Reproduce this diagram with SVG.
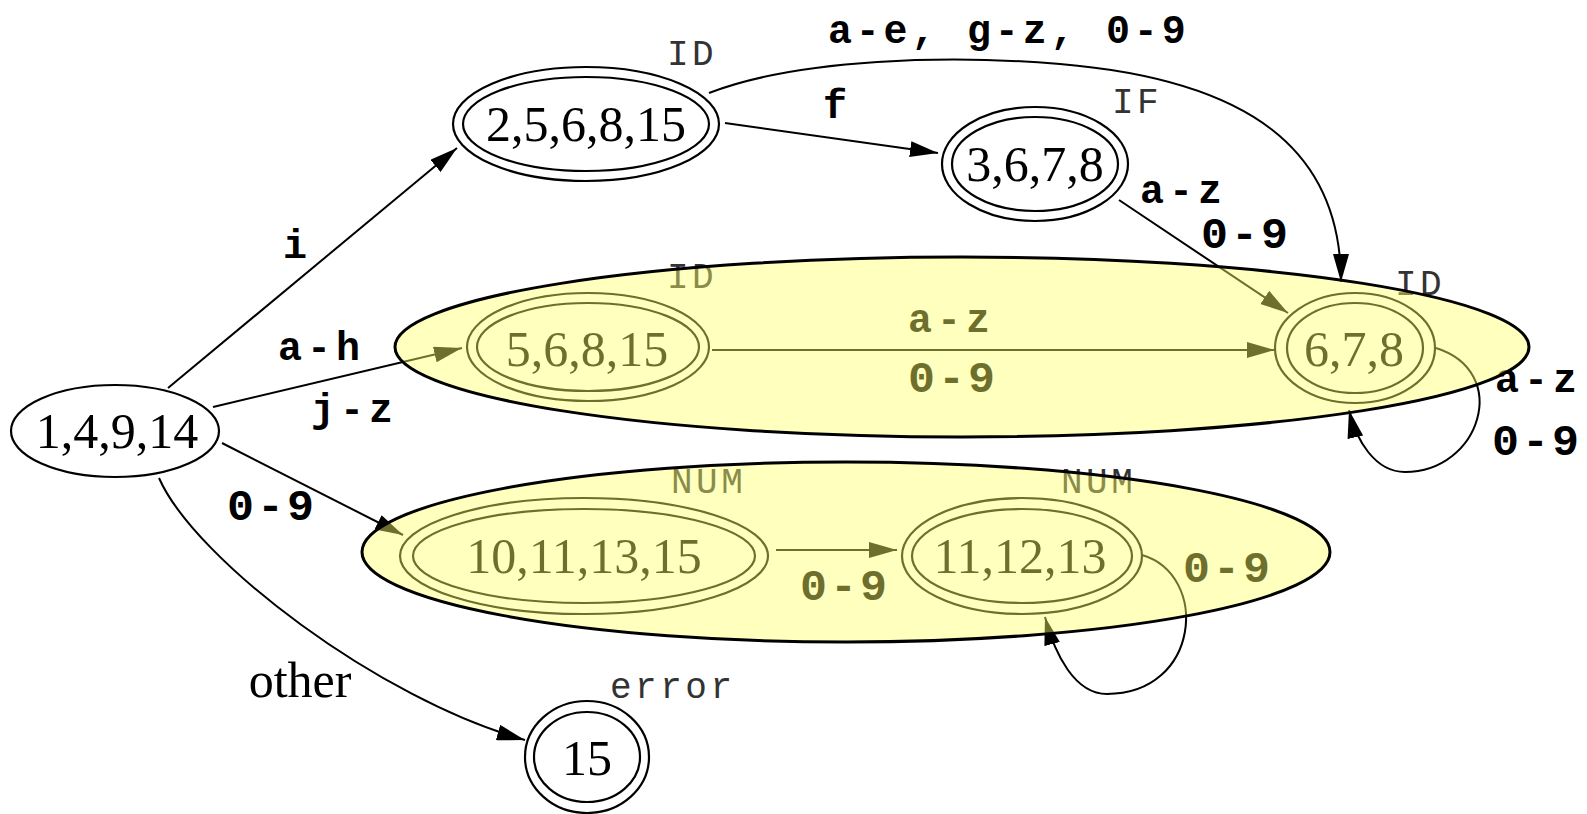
<svg xmlns="http://www.w3.org/2000/svg" width="1587" height="814" viewBox="0 0 1587 814">
<style>
.bg{fill:#fff}
.n{fill:none;stroke:#000;stroke-width:2.2}
.nl{font-family:"Liberation Serif","Times New Roman",serif;font-size:50px;fill:#000;text-anchor:middle}
.tag{font-family:"Liberation Mono","Courier New",monospace;font-size:36px;fill:#333;letter-spacing:3.5px}
.el{font-family:"Liberation Mono","Courier New",monospace;font-size:40px;font-weight:bold;fill:#000;letter-spacing:5px}
.dg{font-size:45px;letter-spacing:3px}
.e{fill:none;stroke:#000;stroke-width:2}
.cl{fill:#ffff69;fill-opacity:0.43;stroke:#000;stroke-width:3}
</style>
<defs>
<marker id="arr" viewBox="0 0 28 16" refX="28" refY="8" markerWidth="28" markerHeight="16" markerUnits="userSpaceOnUse" orient="auto">
<path d="M0,0 L28,8 L0,16 z" fill="#000"/>
</marker>
</defs>
<rect class="bg" x="0" y="0" width="1587" height="814"/>

<g id="connectors">
<path class="e" marker-end="url(#arr)" d="M168,388 L457,148"/>
<path class="e" marker-end="url(#arr)" d="M213,407 L462,348"/>
<path class="e" marker-end="url(#arr)" d="M222,443 L403,535"/>
<path class="e" marker-end="url(#arr)" d="M159,478 C195,560 380,700 525,740"/>
<path class="e" marker-end="url(#arr)" d="M725,123 L938,153"/>
<path class="e" marker-end="url(#arr)" d="M709,93 C800,58 950,55 1060,64 C1250,80 1341,150 1341,282"/>
<path class="e" marker-end="url(#arr)" d="M1119,200 L1288,313"/>
<path class="e" marker-end="url(#arr)" d="M712,350 L1275,350"/>
<path class="e" marker-end="url(#arr)" d="M1436,348 C1512,372 1480,472 1405,472 C1375,472 1356,440 1349,410"/>
<path class="e" marker-end="url(#arr)" d="M776,550 L897,550"/>
<path class="e" marker-end="url(#arr)" d="M1142,555 C1210,575 1200,694 1107,694 C1075,694 1055,655 1045,617"/>
<text class="el" x="283" y="258">i</text>
<text class="el" x="278" y="360">a-h</text>
<text class="el" x="311" y="422">j-z</text>
<text class="el dg" x="227" y="520">0-9</text>
<text class="nl" x="300" y="697">other</text>
<text class="el" x="823" y="118">f</text>
<text class="el" x="828" y="43" style="letter-spacing:3.8px">a-e, g-z, 0-9</text>
<text class="el" x="1140" y="203">a-z</text>
<text class="el dg" x="1201" y="248">0-9</text>
<text class="el" x="908" y="332">a-z</text>
<text class="el dg" x="908" y="392">0-9</text>
<text class="el" x="1495" y="392">a-z</text>
<text class="el dg" x="1492" y="455">0-9</text>
<text class="el dg" x="800" y="600">0-9</text>
<text class="el dg" x="1183" y="582">0-9</text>
</g>

<g id="n1-4-9-14">
<ellipse class="n" cx="115" cy="431" rx="104" ry="46"/>
<text class="nl" x="117" y="448">1,4,9,14</text>
</g>
<g id="n2-5-6-8-15">
<ellipse class="n" cx="586" cy="124" rx="133" ry="57"/>
<ellipse class="n" cx="586" cy="124" rx="123" ry="47"/>
<text class="nl" x="586" y="141">2,5,6,8,15</text>
<text class="tag" x="667" y="65">ID</text>
</g>
<g id="n3-6-7-8">
<ellipse class="n" cx="1035" cy="164" rx="93" ry="57"/>
<ellipse class="n" cx="1035" cy="164" rx="83" ry="47"/>
<text class="nl" x="1035" y="181">3,6,7,8</text>
<text class="tag" x="1112" y="113">IF</text>
</g>
<g id="n5-6-8-15">
<ellipse class="n" cx="588" cy="347" rx="121" ry="54"/>
<ellipse class="n" cx="588" cy="347" rx="111" ry="44"/>
<text class="nl" x="587" y="366">5,6,8,15</text>
<text class="tag" x="667" y="288">ID</text>
</g>
<g id="n6-7-8">
<ellipse class="n" cx="1355" cy="348" rx="80" ry="55"/>
<ellipse class="n" cx="1355" cy="348" rx="68" ry="45"/>
<text class="nl" x="1354" y="366">6,7,8</text>
<text class="tag" x="1395" y="295">ID</text>
</g>
<g id="n10-11-13-15">
<ellipse class="n" cx="584" cy="556" rx="184" ry="58"/>
<ellipse class="n" cx="584" cy="556" rx="171" ry="47"/>
<text class="nl" x="584" y="573">10,11,13,15</text>
<text class="tag" x="671" y="493">NUM</text>
</g>
<g id="n11-12-13">
<ellipse class="n" cx="1022" cy="556" rx="120" ry="58"/>
<ellipse class="n" cx="1022" cy="556" rx="110" ry="47"/>
<text class="nl" x="1020" y="573">11,12,13</text>
<text class="tag" x="1061" y="493">NUM</text>
</g>
<g id="n15">
<ellipse class="n" cx="587" cy="757" rx="62" ry="56"/>
<ellipse class="n" cx="587" cy="757" rx="53" ry="45"/>
<text class="nl" x="587" y="775">15</text>
<text class="tag" x="610" y="698">error</text>
</g>

<g id="clusters">
<ellipse class="cl" cx="962" cy="347" rx="567" ry="90"/>
<ellipse class="cl" cx="846" cy="552" rx="484" ry="90"/>
</g>
</svg>
